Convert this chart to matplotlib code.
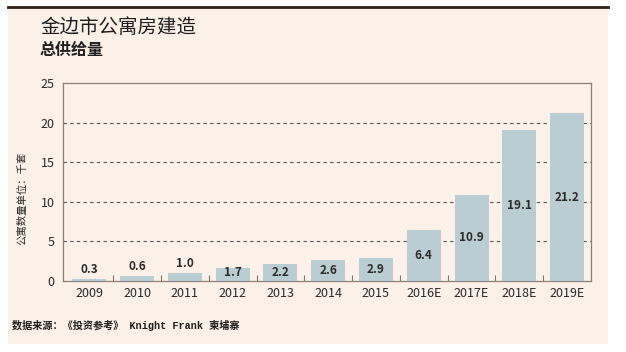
import matplotlib
matplotlib.use("Agg")
import matplotlib.pyplot as plt
from matplotlib.patches import Rectangle
from matplotlib.lines import Line2D
import numpy as np

plt.rcParams['font.family'] = ['Noto Sans CJK SC', 'DejaVu Sans']

years = ['2009', '2010', '2011', '2012', '2013', '2014', '2015',
         '2016E', '2017E', '2018E', '2019E']
supply = [0.3, 0.6, 1.0, 1.7, 2.2, 2.6, 2.9, 6.4, 10.9, 19.1, 21.2]
yticks = [0, 5, 10, 15, 20, 25]

bg = '#fbf1e8'
bar_color = '#b9cdd3'
text_color = '#2a2a2a'

fig = plt.figure(figsize=(6.26, 3.52), dpi=100)
fig.patch.set_facecolor('white')

# cream panel and top rule
fig.patches.append(Rectangle((8 / 626, 8 / 352), 600 / 626, 337 / 352,
                             transform=fig.transFigure, facecolor=bg,
                             edgecolor='none', zorder=-10))
fig.lines.append(Line2D([8 / 626, 608 / 626], [345 / 352, 345 / 352],
                        transform=fig.transFigure, color='#2b2118', lw=2))

ax = fig.add_axes([63 / 626, 71 / 352, 528 / 626, 198 / 352])
ax.set_facecolor(bg)

x = np.arange(len(years))
ax.bar(x, supply, width=0.71, color=bar_color, zorder=3)

for xi, v in zip(x, supply):
    ypos = v + 1.2 if v < 1.5 else max(v / 2, 1.1)
    ax.text(xi, ypos, f'{v:.1f}', ha='center', va='center',
            fontsize=8.5, fontweight='bold', color=text_color, zorder=4)

ax.set_xlim(-0.55, len(years) - 0.5)
ax.set_ylim(0, 25)
ax.set_yticks(yticks)
ax.set_xticks(x)
ax.set_xticklabels(years)
ax.set_xticks(x[:-1] + 0.5, minor=True)
ax.tick_params(axis='both', which='major', length=0, labelsize=9,
               labelcolor=text_color, pad=6)
ax.tick_params(axis='x', which='major', pad=4)
ax.tick_params(axis='x', which='minor', direction='in', length=4,
               color='#777777', width=0.8)

for t in yticks[1:-1]:
    ax.axhline(t, color='#555555', lw=0.8, ls=(0, (3, 3)), zorder=1)

for s in ax.spines.values():
    s.set_color('#8a7f76')
    s.set_linewidth(0.9)

fig.text(22 / 626, 154 / 352, '公寓数量单位：千套', rotation=90,
         ha='center', va='center', fontsize=7.5, color=text_color)

fig.text(40 / 626, 325 / 352, '金边市公寓房建造', ha='left', va='center',
         fontsize=14, color='#1e1e1e')
fig.text(40 / 626, 302 / 352, '总供给量', ha='left', va='center',
         fontsize=11.5, fontweight='bold', color='#1e1e1e')

fig.text(12 / 626, 27 / 352, '数据来源：《投资参考》 Knight Frank 柬埔寨',
         ha='left', va='center', fontsize=7.3, fontweight='bold',
         color='#1e1e1e', family=['Liberation Mono', 'Noto Sans CJK SC'])

fig.savefig('out.png', dpi=100, facecolor=fig.get_facecolor())
